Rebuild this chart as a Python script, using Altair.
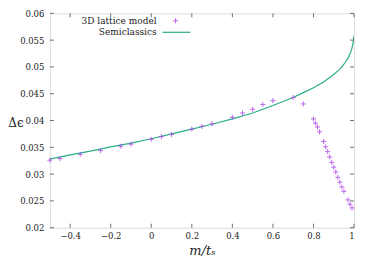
import altair as alt
import pandas as pd

# Lattice model data
lat_x = [-0.5, -0.45, -0.35, -0.25, -0.15, -0.1, 0.0, 0.05, 0.1, 0.2, 0.25, 0.3,
         0.4, 0.45, 0.5, 0.55, 0.6, 0.7, 0.75, 0.8, 0.81, 0.82, 0.83, 0.85, 0.86,
         0.87, 0.88, 0.89, 0.9, 0.91, 0.92, 0.93, 0.94, 0.95, 0.97, 0.98, 0.99]
lat_y = [0.0326, 0.0329, 0.0337, 0.0344, 0.0352, 0.0356, 0.0365, 0.0370, 0.0374,
         0.0384, 0.0389, 0.0394, 0.0406, 0.0414, 0.0421, 0.0430, 0.0437, 0.0443,
         0.0431, 0.0403, 0.0395, 0.0388, 0.0379, 0.0361, 0.0351, 0.0342, 0.0332,
         0.0322, 0.0313, 0.0304, 0.0294, 0.0285, 0.0276, 0.0268, 0.0252, 0.0244,
         0.0237]

# Semiclassics curve
semi_x = [-0.5, -0.4, -0.3, -0.2, -0.1, 0.0, 0.1, 0.2, 0.3, 0.4, 0.5, 0.6, 0.7,
          0.75, 0.8, 0.85, 0.9, 0.93, 0.95, 0.97, 0.98, 0.99, 0.995, 1.0]
semi_y = [0.0328, 0.0336, 0.0343, 0.0351, 0.0358, 0.0366, 0.0375, 0.0384, 0.0393,
          0.0403, 0.0414, 0.0428, 0.0443, 0.0452, 0.0461, 0.0472, 0.0486, 0.0496,
          0.0505, 0.0516, 0.0524, 0.0535, 0.0545, 0.0558]

x_ticks = [-0.4, -0.2, 0.0, 0.2, 0.4, 0.6, 0.8, 1.0]
y_ticks = [0.02, 0.025, 0.03, 0.035, 0.04, 0.045, 0.05, 0.055, 0.06]

legend_labels = ["3D lattice model", "Semiclassics"]

W, H = 305, 215
FONT = "DejaVu Serif"
PURPLE = "#b04ce8"
GREEN = "#2aae8a"
TICKLEN = 4

lat = pd.DataFrame({"x": lat_x, "y": lat_y})
semi = pd.DataFrame({"x": semi_x, "y": semi_y})
xt = pd.DataFrame({"x": x_ticks})
yt = pd.DataFrame({"y": y_ticks})

xscale = alt.Scale(domain=[-0.5, 1.0], nice=False, zero=False)
yscale = alt.Scale(domain=[0.02, 0.06], nice=False, zero=False)

xaxis = alt.Axis(values=x_ticks, format="~g", title="m/tₛ", labelFont=FONT,
                 labelFontSize=8.5, labelColor="#222", labelPadding=4,
                 labelOverlap=False,
                 titleFont=FONT, titleFontStyle="italic", titleFontWeight="normal",
                 titleFontSize=13, titleColor="#222", titleBaseline="middle",
                 titleY=22.5, grid=False, ticks=False, tickSize=0, domain=False)
yaxis = alt.Axis(values=y_ticks, format="~g", title="Δϵ", labelFont=FONT,
                 labelFontSize=8.5, labelColor="#222", labelPadding=6,
                 labelOverlap=False,
                 titleFont=FONT, titleFontWeight="normal", titleFontSize=12,
                 titleColor="#222", titleAngle=0, titleAlign="center",
                 titleBaseline="middle", titleX=-34.5, titleY=109,
                 grid=False, ticks=False, tickSize=0, domain=False)

X = alt.X("x:Q", scale=xscale, axis=xaxis)
Y = alt.Y("y:Q", scale=yscale, axis=yaxis)

line = alt.Chart(semi).mark_line(color=GREEN, strokeWidth=1.2, clip=True).encode(
    x=X, y=Y, order="x:Q")

plus = "M-1,0L1,0M0,-1L0,1"
pts = alt.Chart(lat).mark_point(shape=plus, size=25, filled=False, color=PURPLE,
                                strokeWidth=1, opacity=0.85).encode(x=X, y=Y)

tick_style = dict(color="#6e6e6e", strokeWidth=1)
bottom = alt.Chart(xt).mark_rule(**tick_style).encode(
    x=X, y=alt.value(H), y2=alt.value(H - TICKLEN))
top = alt.Chart(xt).mark_rule(**tick_style).encode(
    x=X, y=alt.value(0), y2=alt.value(TICKLEN))
left = alt.Chart(yt).mark_rule(**tick_style).encode(
    y=Y, x=alt.value(0), x2=alt.value(TICKLEN))
right = alt.Chart(yt).mark_rule(**tick_style).encode(
    y=Y, x=alt.value(W), x2=alt.value(W - TICKLEN))

leg = pd.DataFrame({"label": legend_labels})
leg1 = alt.Chart(leg.iloc[[0]]).mark_text(font=FONT, fontSize=9, align="right",
                                           baseline="middle", color="#222").encode(
    text="label:N", x=alt.value(107), y=alt.value(7.5))
leg2 = alt.Chart(leg.iloc[[1]]).mark_text(font=FONT, fontSize=9, align="right",
                                           baseline="middle", color="#222").encode(
    text="label:N", x=alt.value(107), y=alt.value(19))
leg_pt = alt.Chart(leg.iloc[[0]]).mark_point(shape=plus, size=25, filled=False,
                                              color=PURPLE, strokeWidth=1, opacity=0.85).encode(
    x=alt.value(126), y=alt.value(7.5))
leg_ln = alt.Chart(leg.iloc[[1]]).mark_rule(color=GREEN, strokeWidth=1.2).encode(
    x=alt.value(113), x2=alt.value(141), y=alt.value(19))

chart = alt.layer(line, pts, bottom, top, left, right, leg1, leg2, leg_pt, leg_ln).properties(
    width=W, height=H,
    autosize=alt.AutoSizeParams(type="none"),
    padding={"left": 42, "top": 5, "right": 12, "bottom": 30},
).configure_view(stroke="#6e6e6e", strokeWidth=1).configure(background="white")

chart.save("out.html", embed_options={"renderer": "svg", "actions": False})
